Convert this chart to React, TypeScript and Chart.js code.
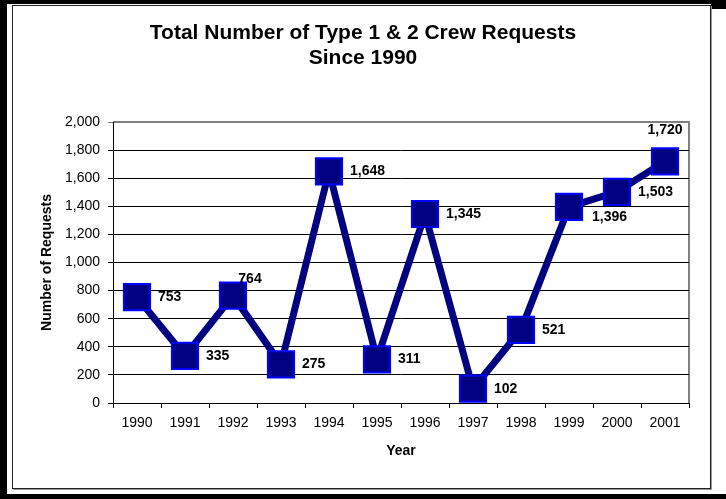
import React, { useEffect, useRef } from "react";
import { Chart, registerables } from "chart.js";

Chart.register(...registerables);

const years: string[] = ["1990", "1991", "1992", "1993", "1994", "1995", "1996", "1997", "1998", "1999", "2000", "2001"];
const requests: number[] = [753, 335, 764, 275, 1648, 311, 1345, 102, 521, 1396, 1503, 1720];
const titleLines: string[] = ["Total Number of Type 1 & 2 Crew Requests", "Since 1990"];
const yAxisTitle = "Number of Requests";
const xAxisTitle = "Year";
const labelPlacement: string[] = ["right", "right", "above-right", "right", "right", "right", "right", "right", "right", "below-right", "right", "above"];

const FONT = "'Liberation Sans', Arial, Helvetica, sans-serif";

const plotBorderPlugin = {
  id: "plotBorder",
  beforeDraw(chart: any) {
    const { ctx, chartArea } = chart;
    ctx.save();
    ctx.strokeStyle = "#808080";
    ctx.lineWidth = 2;
    ctx.beginPath();
    ctx.moveTo(chartArea.left, chartArea.top);
    ctx.lineTo(chartArea.right, chartArea.top);
    ctx.lineTo(chartArea.right, chartArea.bottom);
    ctx.stroke();
    ctx.restore();
  },
};

const valueLabelPlugin = {
  id: "valueLabels",
  afterDatasetsDraw(chart: any) {
    const { ctx } = chart;
    const meta = chart.getDatasetMeta(0);
    ctx.save();
    ctx.font = `bold 14px ${FONT}`;
    ctx.fillStyle = "#000";
    ctx.textBaseline = "middle";
    meta.data.forEach((pt: any, i: number) => {
      const v = requests[i];
      const txt = v.toLocaleString("en-US");
      const place = labelPlacement[i];
      let x = pt.x;
      let y = pt.y;
      if (place === "right") {
        ctx.textAlign = "left";
        x = pt.x + 21;
      } else if (place === "above-right") {
        ctx.textAlign = "center";
        x = pt.x + 17;
        y = pt.y - 17;
      } else if (place === "below-right") {
        ctx.textAlign = "left";
        x = pt.x + 23;
        y = pt.y + 10;
      } else if (place === "above") {
        ctx.textAlign = "center";
        y = pt.y - 31;
      }
      ctx.fillText(txt, x, y);
    });
    ctx.restore();
  },
};

function ChartView() {
  const ref = useRef<HTMLCanvasElement | null>(null);
  useEffect(() => {
    if (!ref.current) return;
    const chart = new Chart(ref.current, {
      type: "line",
      data: {
        labels: years,
        datasets: [
          {
            data: requests,
            borderColor: "#000080",
            borderWidth: 7,
            pointStyle: "rect",
            pointRadius: 18.5,
            pointHoverRadius: 18.5,
            pointBackgroundColor: "#000080",
            pointBorderColor: "#0000FF",
            pointBorderWidth: 2,
            tension: 0,
            clip: false as any,
          },
        ],
      },
      options: {
        responsive: false,
        animation: false,
        devicePixelRatio: 1,
        layout: { padding: { left: 37, right: 37, top: 0, bottom: 39.6 } },
        plugins: {
          legend: { display: false },
          tooltip: { enabled: false },
          title: {
            display: true,
            text: titleLines,
            color: "#000",
            font: { family: FONT, size: 21, weight: "bold", lineHeight: 25 / 21 },
            padding: { top: 20.5, bottom: 51.5 },
          },
        },
        scales: {
          x: {
            offset: true,
            grid: {
              display: true,
              offset: true,
              drawOnChartArea: false,
              drawTicks: true,
              tickLength: 5,
              color: "#000",
            },
            border: { display: true, color: "#000", width: 1 },
            ticks: { color: "#000", font: { family: FONT, size: 14 }, padding: 7, maxRotation: 0, autoSkip: false },
            title: {
              display: true,
              text: xAxisTitle,
              color: "#000",
              font: { family: FONT, size: 14, weight: "bold" },
              padding: { top: 0, bottom: 0 },
            },
            afterFit(scale: any) {
              scale.height = 56.4;
            },
          },
          y: {
            min: 0,
            max: 2000,
            ticks: {
              stepSize: 200,
              color: "#000",
              font: { family: FONT, size: 14 },
              padding: 8,
              callback: (v: any) => Number(v).toLocaleString("en-US"),
            },
            grid: {
              drawTicks: true,
              tickLength: 5,
              color: (c: any) => (c.tick && c.tick.value === 2000 ? "#808080" : "#000"),
              lineWidth: 1,
            },
            border: { display: true, color: "#000", width: 1 },
            title: {
              display: true,
              text: yAxisTitle,
              color: "#000",
              font: { family: FONT, size: 14, weight: "bold" },
              padding: { top: 1.6, bottom: 0 },
            },
            afterFit(scale: any) {
              scale.width = 76;
            },
          },
        },
      },
      plugins: [plotBorderPlugin, valueLabelPlugin],
    });
    return () => chart.destroy();
  }, []);
  return <canvas ref={ref} width={726} height={499} style={{ position: "absolute", left: 0, top: 0, width: 726, height: 499 }} />;
}

export default function App() {
  const black = "#000";
  return (
    <div style={{ position: "fixed", left: 0, top: 0, width: 726, height: 499, background: "#fff", overflow: "hidden" }}>
      <div style={{ position: "absolute", left: 0, top: 0, width: 7, height: 499, background: black }} />
      <div style={{ position: "absolute", left: 0, top: 0, width: 726, height: 4, background: black }} />
      <div style={{ position: "absolute", left: 711, top: 0, width: 15, height: 9, background: black }} />
      <div style={{ position: "absolute", left: 0, top: 494, width: 726, height: 5, background: black }} />
      <div
        style={{
          position: "absolute",
          left: 12,
          top: 5,
          width: 697,
          height: 482,
          border: "1px solid #222",
          boxShadow: "1px 1px 0 #999",
        }}
      />
      <ChartView />
    </div>
  );
}
